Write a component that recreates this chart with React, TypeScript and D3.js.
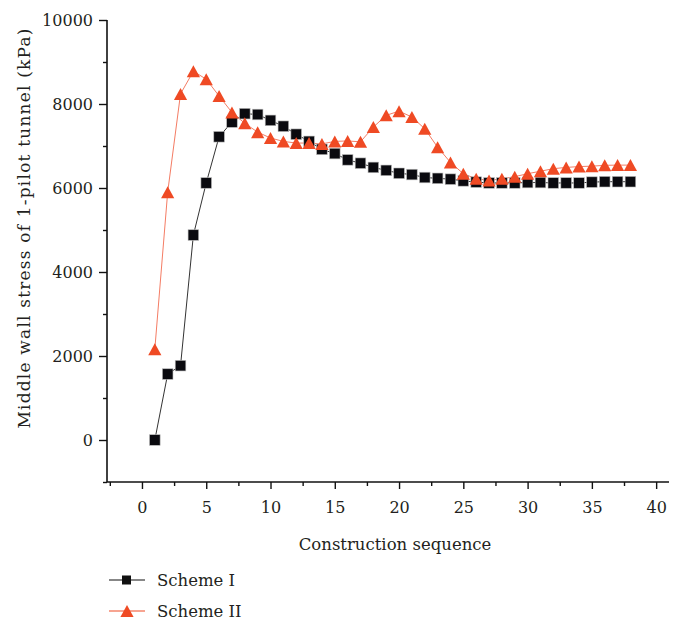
import React, { useEffect, useRef } from "react";
import * as d3 from "d3";

// construction step 1..38
const steps = d3.range(1, 39);

const schemeI = [
  0, 1570, 1770, 4880, 6120, 7220, 7570, 7770, 7750, 7610,
  7470, 7280, 7110, 6920, 6820, 6670, 6590, 6490, 6420, 6350,
  6320, 6250, 6230, 6210, 6170, 6140, 6120, 6120, 6120, 6130,
  6130, 6120, 6120, 6120, 6140, 6150, 6150, 6150,
];

const schemeII = [
  2160, 5900, 8240, 8780, 8590, 8190, 7800, 7540, 7330, 7190,
  7110, 7070, 7070, 7050, 7110, 7120, 7100, 7450, 7730, 7830,
  7690, 7410, 6970, 6610, 6340, 6220, 6180, 6220, 6270, 6340,
  6400, 6460, 6490, 6510, 6520, 6540, 6545, 6545,
];

const xMajor = [0, 5, 10, 15, 20, 25, 30, 35, 40];
const xMinor = [-2.5, 2.5, 7.5, 12.5, 17.5, 22.5, 27.5, 32.5, 37.5];
const yMajor = [0, 2000, 4000, 6000, 8000, 10000];
const yMinor = [-1000, 1000, 3000, 5000, 7000, 9000];

const seriesNames = ["Scheme I", "Scheme II"];

const RED = "#ef4a24";
const TEXT = "#231f20";
const FONT = "'DejaVu Serif', 'Liberation Serif', serif";

const W = 678,
  H = 623;

const Chart = () => {
  const svgRef = useRef<SVGSVGElement>(null);

  useEffect(() => {
    const svg = d3.select(svgRef.current);
    svg.selectAll("*").remove();

    const x = d3.scaleLinear().domain([-2.72, 41]).range([107, 669]);
    const y = d3.scaleLinear().domain([-1000, 10000]).range([482, 20]);

    const g = svg.append("g");

    // axes
    const xAxis = g
      .append("g")
      .attr("transform", `translate(0,${y(-1000)})`)
      .call(
        d3.axisBottom(x).tickValues(xMajor).tickSize(7).tickPadding(13).tickFormat(d3.format("d"))
      );
    g.append("g")
      .attr("transform", `translate(0,${y(-1000)})`)
      .call(d3.axisBottom(x).tickValues(xMinor).tickSize(4).tickFormat(() => ""))
      .select(".domain")
      .remove();

    const yAxis = g
      .append("g")
      .attr("transform", `translate(${x(-2.72)},0)`)
      .call(
        d3.axisLeft(y).tickValues(yMajor).tickSize(8).tickPadding(6).tickFormat(d3.format("d"))
      );
    g.append("g")
      .attr("transform", `translate(${x(-2.72)},0)`)
      .call(d3.axisLeft(y).tickValues(yMinor).tickSize(4).tickFormat(() => ""))
      .select(".domain")
      .remove();

    [xAxis, yAxis].forEach((a) => {
      a.select(".domain").attr("stroke", "#111").attr("stroke-width", 1.6);
      a.selectAll(".tick text")
        .attr("fill", TEXT)
        .style("font-family", FONT)
        .style("font-size", "16px");
    });
    g.selectAll(".tick line").attr("stroke", "#111").attr("stroke-width", 1.4);
    xAxis.select(".domain").attr("d", `M${x(-2.72)},0H${x(41)}`);
    yAxis.select(".domain").attr("d", `M0,${y(10000)}V${y(-1000)}`);

    // axis titles
    g.append("text")
      .attr("x", 395)
      .attr("y", 550)
      .attr("text-anchor", "middle")
      .attr("fill", TEXT)
      .style("font-family", FONT)
      .style("font-size", "16.5px")
      .text("Construction sequence");

    g.append("text")
      .attr("transform", `translate(30,228) rotate(-90)`)
      .attr("text-anchor", "middle")
      .attr("fill", TEXT)
      .style("font-family", FONT)
      .style("font-size", "17px")
      .style("letter-spacing", "1.2px")
      .text("Middle wall stress of 1-pilot tunnel (kPa)");

    const line = d3
      .line<number>()
      .x((d, i) => x(steps[i]))
      .y((d) => y(d));

    g.append("path")
      .datum(schemeI)
      .attr("fill", "none")
      .attr("stroke", "#333")
      .attr("stroke-width", 1)
      .attr("d", line);

    g.append("path")
      .datum(schemeII)
      .attr("fill", "none")
      .attr("stroke", "#f47c64")
      .attr("stroke-width", 1)
      .attr("d", line);

    const tri = (cx: number, cy: number, s: number) =>
      `M${cx},${cy - s}L${cx + s * 1.1},${cy + s}L${cx - s * 1.1},${cy + s}Z`;

    g.append("g")
      .selectAll("rect")
      .data(schemeI)
      .join("rect")
      .attr("x", (d, i) => x(steps[i]) - 5.3)
      .attr("y", (d) => y(d) - 5.3)
      .attr("width", 10.6)
      .attr("height", 10.6)
      .attr("fill", "#0a0a0f")
      .attr("stroke", "#bbb")
      .attr("stroke-width", 0.6);

    g.append("g")
      .selectAll("path")
      .data(schemeII)
      .join("path")
      .attr("d", (d, i) => tri(x(steps[i]), y(d), 6))
      .attr("fill", RED);

    // legend
    const legend = g.append("g");
    seriesNames.forEach((name, i) => {
      const ly = 580 + i * 31;
      legend
        .append("line")
        .attr("x1", 109)
        .attr("x2", 145)
        .attr("y1", ly)
        .attr("y2", ly)
        .attr("stroke", i === 0 ? "#111" : RED)
        .attr("stroke-width", 1.2);
      if (i === 0) {
        legend
          .append("rect")
          .attr("x", 122)
          .attr("y", ly - 4.5)
          .attr("width", 9)
          .attr("height", 9)
          .attr("fill", "#111");
      } else {
        legend.append("path").attr("d", tri(127, ly, 6)).attr("fill", RED);
      }
      legend
        .append("text")
        .attr("x", 157)
        .attr("y", ly + 6)
        .attr("fill", TEXT)
        .style("font-family", FONT)
        .style("font-size", "16.5px")
        .text(name);
    });
  }, []);

  return (
    <svg
      ref={svgRef}
      width={W}
      height={H}
      style={{ position: "absolute", left: 0, top: 0, background: "#fff" }}
    />
  );
};

export default function App() {
  return <Chart />;
}
